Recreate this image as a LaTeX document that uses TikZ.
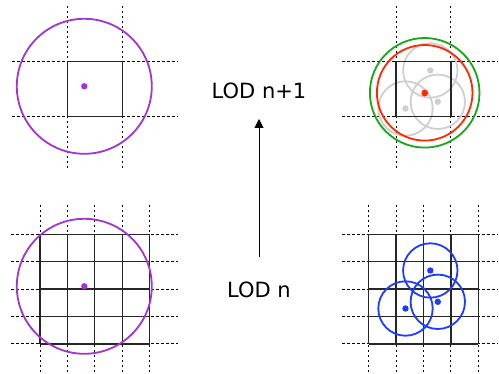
\documentclass[tikz,border=0pt]{standalone}
\usepackage{fontspec}
\setmainfont{DejaVu Sans}
\usetikzlibrary{arrows.meta}
\definecolor{cpurple}{HTML}{A035CF}
\definecolor{cgreen}{HTML}{17A81A}
\definecolor{cred}{HTML}{FF2A00}
\definecolor{cblue}{HTML}{1F3BFF}
\definecolor{cgray}{HTML}{CFCFCF}
\begin{document}
\begin{tikzpicture}[x=1pt,y=-1pt,
  dashline/.style={black,line width=1pt,dash pattern=on 2.5pt off 2.5pt},
  gridline/.style={black!85,line width=1.3pt},
  bigcirc/.style={line width=1.8pt},
  smallcirc/.style={line width=1.8pt},
  dotmark/.style={},
  lodlabel/.style={font=\fontsize{21}{25}\selectfont, inner sep=0pt}]
\useasboundingbox (0,0) rectangle (499,374);
\def\s{27.4}
% ---------- top left ----------
\foreach \x in {67.4,122.2} \draw[dashline] (\x,6) -- (\x,170);
\foreach \y in {61.7,116.5} \draw[dashline] (12,\y) -- (178,\y);
\draw[gridline] (67.4,61.7) rectangle (122.2,116.5);
\draw[cpurple,bigcirc] (84.3,86.3) circle (67.5);
\fill[cpurple] (84.3,86.3) circle (3.2);
% ---------- top right ----------
\foreach \x in {396.1,450.9} \draw[dashline] (\x,6) -- (\x,170);
\foreach \y in {61.7,116.5} \draw[dashline] (342,\y) -- (498,\y);
\draw[cgray,smallcirc] (430.3,70.5) circle (27.2);
\draw[cgray,smallcirc] (405.5,108.5) circle (27.2);
\draw[cgray,smallcirc] (437.8,101.8) circle (27.2);
\draw[gridline] (396.1,61.7) rectangle (450.9,116.5);
\draw[cgreen,bigcirc] (424.7,92.8) circle (54.8);
\draw[cred,bigcirc] (424.7,92.8) circle (47.8);
\fill[cgray] (430.3,70.5) circle (3.2);
\fill[cgray] (405.5,108.5) circle (3.2);
\fill[cgray] (437.8,101.8) circle (3.2);
\fill[cred] (424.7,93) circle (3.4);
% ---------- bottom left ----------
\foreach \i in {0,...,4} {
  \draw[dashline] ({40+\i*\s},205) -- ({40+\i*\s},372);
  \draw[dashline] (11,{234.3+\i*\s}) -- (178,{234.3+\i*\s});
}
\foreach \i in {0,...,4} {
  \draw[gridline] ({40+\i*\s},234.3) -- ({40+\i*\s},{234.3+4*\s});
  \draw[gridline] (40,{234.3+\i*\s}) -- ({40+4*\s},{234.3+\i*\s});
}
\draw[cpurple,bigcirc] (84.3,286.3) circle (67.5);
\fill[cpurple] (84.3,286.3) circle (3.2);
% ---------- bottom right ----------
\foreach \i in {0,...,4} {
  \draw[dashline] ({368.7+\i*\s},205) -- ({368.7+\i*\s},372);
  \draw[dashline] (342,{234.3+\i*\s}) -- (498,{234.3+\i*\s});
}
\foreach \i in {0,...,4} {
  \draw[gridline] ({368.7+\i*\s},234.3) -- ({368.7+\i*\s},{234.3+4*\s});
  \draw[gridline] (368.7,{234.3+\i*\s}) -- ({368.7+4*\s},{234.3+\i*\s});
}
\draw[cblue,smallcirc] (430.3,270.5) circle (27.2);
\draw[cblue,smallcirc] (405.5,308.5) circle (27.2);
\draw[cblue,smallcirc] (437.8,301.8) circle (27.2);
\fill[cblue] (430.3,270.5) circle (3.2);
\fill[cblue] (405.5,308.5) circle (3.2);
\fill[cblue] (437.8,301.8) circle (3.2);
% ---------- labels and arrow ----------
\node[lodlabel] (lodtop) at (259,90.7) {LOD n+1};
\node[lodlabel] (lodbot) at (259,290) {LOD n};
\coordinate (arrstart) at (259,257);
\coordinate (arrend) at (259,119);
\draw[line width=1pt,-{Triangle[length=9pt,width=9pt]}] (arrstart) -- (arrend);
\end{tikzpicture}
\end{document}
